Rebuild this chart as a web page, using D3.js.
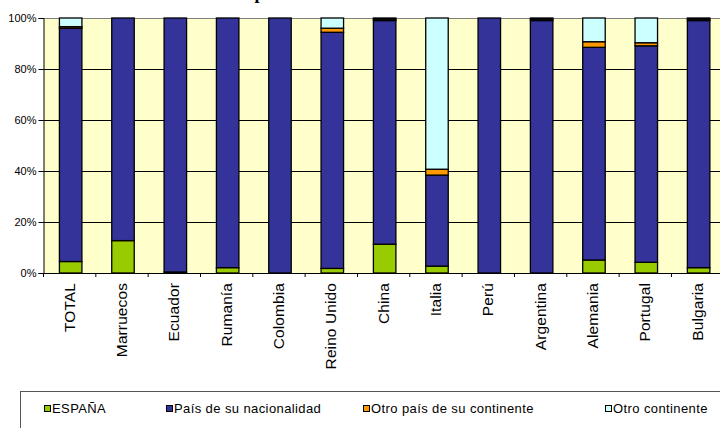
<!DOCTYPE html>
<html>
<head>
<meta charset="utf-8">
<script src="https://cdn.jsdelivr.net/npm/d3@7"></script>
<style>
  html, body { margin: 0; padding: 0; background: #ffffff; }
  svg { display: block; }
  text { font-family: "Liberation Sans", Arial, sans-serif; fill: #000; }
</style>
</head>
<body>
<svg id="chart" width="720" height="428"></svg>
<script>
// ---- Data (percentages) ----
const categories = ["TOTAL", "Marruecos", "Ecuador", "Rumanía", "Colombia", "Reino Unido", "China", "Italia", "Perú", "Argentina", "Alemania", "Portugal", "Bulgaria"];
const seriesNames = ["ESPAÑA", "País de su nacionalidad", "Otro país de su continente", "Otro continente"];
const espana       = [4.5, 12.7, 0.4, 2.1, 0,   1.8, 11.3, 2.7, 0,   0,    5.1, 4.2, 2.1];
const paisNac      = [91.5, 87.3, 99.6, 97.9, 100, 92.6, 87.7, 35.7, 100, 99.0, 83.4, 84.9, 96.9];
const otroPaisCont = [0.6, 0,   0,   0,   0,   1.6, 0.5, 2.3, 0,   0.5,  2.2, 1.2, 0.5];
const otroCont     = [3.4, 0,   0,   0,   0,   4.0, 0.5, 59.3, 0,  0.5,  9.3, 9.7, 0.5];
const yTicks = [0, 20, 40, 60, 80, 100];
const titleText = "País de nacimiento del padre";

const colors = ["#99CC00", "#333399", "#FF9900", "#CCFFFF"];

// ---- Layout ----
const svg = d3.select("#chart");
const mLeft = 43.5, mTop = 18, mBottom = 273;
const step = 52.33;
const mRight = mLeft + step * categories.length;

const x = d3.scaleBand().domain(categories).range([mLeft, mRight]).paddingInner(0.57).paddingOuter(0.285);
const y = d3.scaleLinear().domain([0, 100]).range([mBottom, mTop]);

const rows = categories.map((c, i) => ({
  cat: c, s0: espana[i], s1: paisNac[i], s2: otroPaisCont[i], s3: otroCont[i]
}));
const stack = d3.stack().keys(["s0", "s1", "s2", "s3"]);
const stacked = stack(rows);

// Title (mostly off canvas, as in the reference)
const title = svg.append("text")
  .attr("x", 0).attr("y", -1)
  .style("font-family", "'Liberation Serif', 'Times New Roman', serif")
  .style("font-weight", "bold")
  .style("font-size", "18px")
  .text(titleText);
try {
  const idx = titleText.lastIndexOf("p");
  const pos = title.node().getStartPositionOfChar(idx).x;
  title.attr("x", 254.5 - pos);
} catch (e) {}

// Plot background
svg.append("rect")
  .attr("x", mLeft).attr("y", mTop)
  .attr("width", mRight - mLeft).attr("height", mBottom - mTop)
  .attr("fill", "#FFFFCC");

// Gridlines
svg.append("g").selectAll("line")
  .data(yTicks.filter(t => t > 0))
  .join("line")
  .attr("x1", mLeft).attr("x2", mRight)
  .attr("y1", d => y(d) + 0.5).attr("y2", d => y(d) + 0.5)
  .attr("stroke", d => d === 100 ? "#808080" : "#000")
  .attr("stroke-width", 1);

// Bars
const barG = svg.append("g");
stacked.forEach((layer, li) => {
  barG.append("g").selectAll("rect")
    .data(layer.filter(d => d[1] - d[0] > 0))
    .join("rect")
    .attr("x", d => x(d.data.cat) + 1)
    .attr("width", x.bandwidth())
    .attr("y", d => y(d[1]))
    .attr("height", d => y(d[0]) - y(d[1]))
    .attr("fill", colors[li])
    .attr("stroke", "#000")
    .attr("stroke-width", 1.3);
});

// Y axis
const yAxis = d3.axisLeft(y).tickValues(yTicks).tickSize(5).tickPadding(2)
  .tickFormat(d => d + "%");
const yg = svg.append("g").attr("transform", `translate(${mLeft},0)`).call(yAxis);
yg.select(".domain").attr("stroke", "#000");
yg.selectAll(".tick line").attr("stroke", "#000");
yg.selectAll(".tick text")
  .style("font-family", "'Liberation Sans', Arial, sans-serif")
  .style("font-size", "11px").attr("fill", "#000");

// X axis (ticks at band boundaries)
svg.append("line")
  .attr("x1", mLeft).attr("x2", mRight)
  .attr("y1", mBottom + 0.5).attr("y2", mBottom + 0.5)
  .attr("stroke", "#000");
svg.append("g").selectAll("line")
  .data(d3.range(categories.length + 1))
  .join("line")
  .attr("x1", i => mLeft + i * x.step()).attr("x2", i => mLeft + i * x.step())
  .attr("y1", mBottom).attr("y2", mBottom + 4)
  .attr("stroke", "#000");

// Category labels (rotated)
svg.append("g").selectAll("text")
  .data(categories)
  .join("text")
  .attr("transform", d => `translate(${x(d) + x.bandwidth() / 2 + 5},283) rotate(-90)`)
  .attr("text-anchor", "end")
  .style("font-size", "15.5px")
  .style("letter-spacing", "0.1px")
  .text(d => d);

// Legend
svg.append("rect")
  .attr("x", 20.5).attr("y", 391.5)
  .attr("width", 720).attr("height", 60)
  .attr("fill", "#fff").attr("stroke", "#555").attr("stroke-width", 1);

const legendX = [44, 166, 363, 605];
const lg = svg.append("g").selectAll("g")
  .data(seriesNames)
  .join("g")
  .attr("transform", (d, i) => `translate(${legendX[i]},0)`);
lg.append("rect")
  .attr("x", 0.5).attr("y", 405.5).attr("width", 6).attr("height", 6)
  .attr("fill", (d, i) => colors[i]).attr("stroke", "#000");
lg.append("text")
  .attr("x", 8).attr("y", 413)
  .style("font-size", "13px")
  .style("letter-spacing", "0.4px")
  .text(d => d);
</script>
</body>
</html>
